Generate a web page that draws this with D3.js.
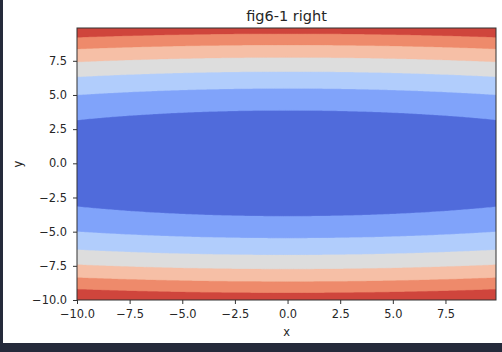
<!doctype html>
<html>
<head>
<meta charset="utf-8">
<script src="https://d3js.org/d3.v7.min.js"></script>
<style>
  html, body { margin: 0; padding: 0; background: #252a3b; }
  #frame { position: absolute; left: 3px; top: 0; width: 499px; height: 343px; background: #fff; }
  svg { position: absolute; left: 0; top: 0; }
  text { font-family: "DejaVu Sans", sans-serif; fill: #262626; }
</style>
</head>
<body>
<div id="frame"></div>
<svg id="chart" width="502" height="352"></svg>
<script>
// f(x, y) = x^2/20 + y^2 sampled on the same grid as the figure
var xStart = -10, xStop = 10, step = 0.1;
var coefX = 1 / 20, coefY = 1;
var levels = [0, 15, 30, 45, 60, 75, 90, 105];
var xTicks = [-10, -7.5, -5, -2.5, 0, 2.5, 5, 7.5];
var yTicks = [-10, -7.5, -5, -2.5, 0, 2.5, 5, 7.5];
var title = "fig6-1 right";

// coolwarm sampled at the band midpoints
var bandColors = ["#506bdb", "#80a3fa", "#b1cdfc", "#dddddd", "#f6bfa6", "#ee8a6b", "#cf453c"];

var pLeft = 77, pRight = 496, pTop = 28, pBottom = 300;
var tickFont = 11.4;

var gridX = d3.range(xStart, xStop - step / 2, step);
var gridY = d3.range(xStart, xStop - step / 2, step);
var n = gridX.length, m = gridY.length;

var values = new Array(n * m);
for (var j = 0; j < m; j++) {
  for (var i = 0; i < n; i++) {
    values[j * n + i] = coefX * gridX[i] * gridX[i] + coefY * gridY[j] * gridY[j];
  }
}

var x = d3.scaleLinear().domain([gridX[0], gridX[n - 1]]).range([pLeft, pRight]);
var y = d3.scaleLinear().domain([gridY[0], gridY[m - 1]]).range([pBottom, pTop]);

var svg = d3.select("#chart");

svg.append("clipPath").attr("id", "clip")
  .append("rect")
  .attr("x", pLeft).attr("y", pTop)
  .attr("width", pRight - pLeft).attr("height", pBottom - pTop);

var contours = d3.contours()
  .size([n, m])
  .thresholds(levels.slice(0, -1))(values);

// grid coordinate -> pixels (d3 puts sample i at i + 0.5)
var proj = d3.geoTransform({
  point: function(cx, cy) {
    this.stream.point(x(gridX[0] + (cx - 0.5) * step), y(gridY[0] + (cy - 0.5) * step));
  }
});
var path = d3.geoPath(proj);

svg.append("g").attr("clip-path", "url(#clip)")
  .selectAll("path")
  .data(contours)
  .enter().append("path")
  .attr("d", path)
  .attr("fill", function(d, i) { return bandColors[i]; })
  .attr("stroke", function(d, i) { return bandColors[i]; })
  .attr("stroke-width", 0.3);

// axes
var fmt = d3.format(".1f");
var xAxis = svg.append("g")
  .attr("transform", "translate(0," + pBottom + ")")
  .call(d3.axisBottom(x).tickValues(xTicks).tickFormat(fmt).tickSizeOuter(0).tickSize(4).tickPadding(6));
var yAxis = svg.append("g")
  .attr("transform", "translate(" + pLeft + ",0)")
  .call(d3.axisLeft(y).tickValues(yTicks).tickFormat(fmt).tickSizeOuter(0).tickSize(4).tickPadding(6));

[xAxis, yAxis].forEach(function(a) {
  a.select(".domain").remove();
  a.selectAll(".tick line").attr("stroke", "#333").attr("stroke-width", 1);
  a.selectAll(".tick text").attr("font-size", tickFont).attr("font-family", "DejaVu Sans").attr("fill", "#262626");
});

svg.append("rect")
  .attr("x", pLeft).attr("y", pTop)
  .attr("width", pRight - pLeft).attr("height", pBottom - pTop)
  .attr("fill", "none").attr("stroke", "#333").attr("stroke-width", 1);

svg.append("text")
  .attr("x", (pLeft + pRight) / 2).attr("y", 21)
  .attr("text-anchor", "middle").attr("font-size", 14.5)
  .text(title);

svg.append("text")
  .attr("x", (pLeft + pRight) / 2).attr("y", 336)
  .attr("text-anchor", "middle").attr("font-size", tickFont)
  .text("x");

svg.append("text")
  .attr("transform", "translate(22," + (pTop + pBottom) / 2 + ") rotate(-90)")
  .attr("text-anchor", "middle").attr("font-size", tickFont)
  .text("y");
</script>
</body>
</html>
